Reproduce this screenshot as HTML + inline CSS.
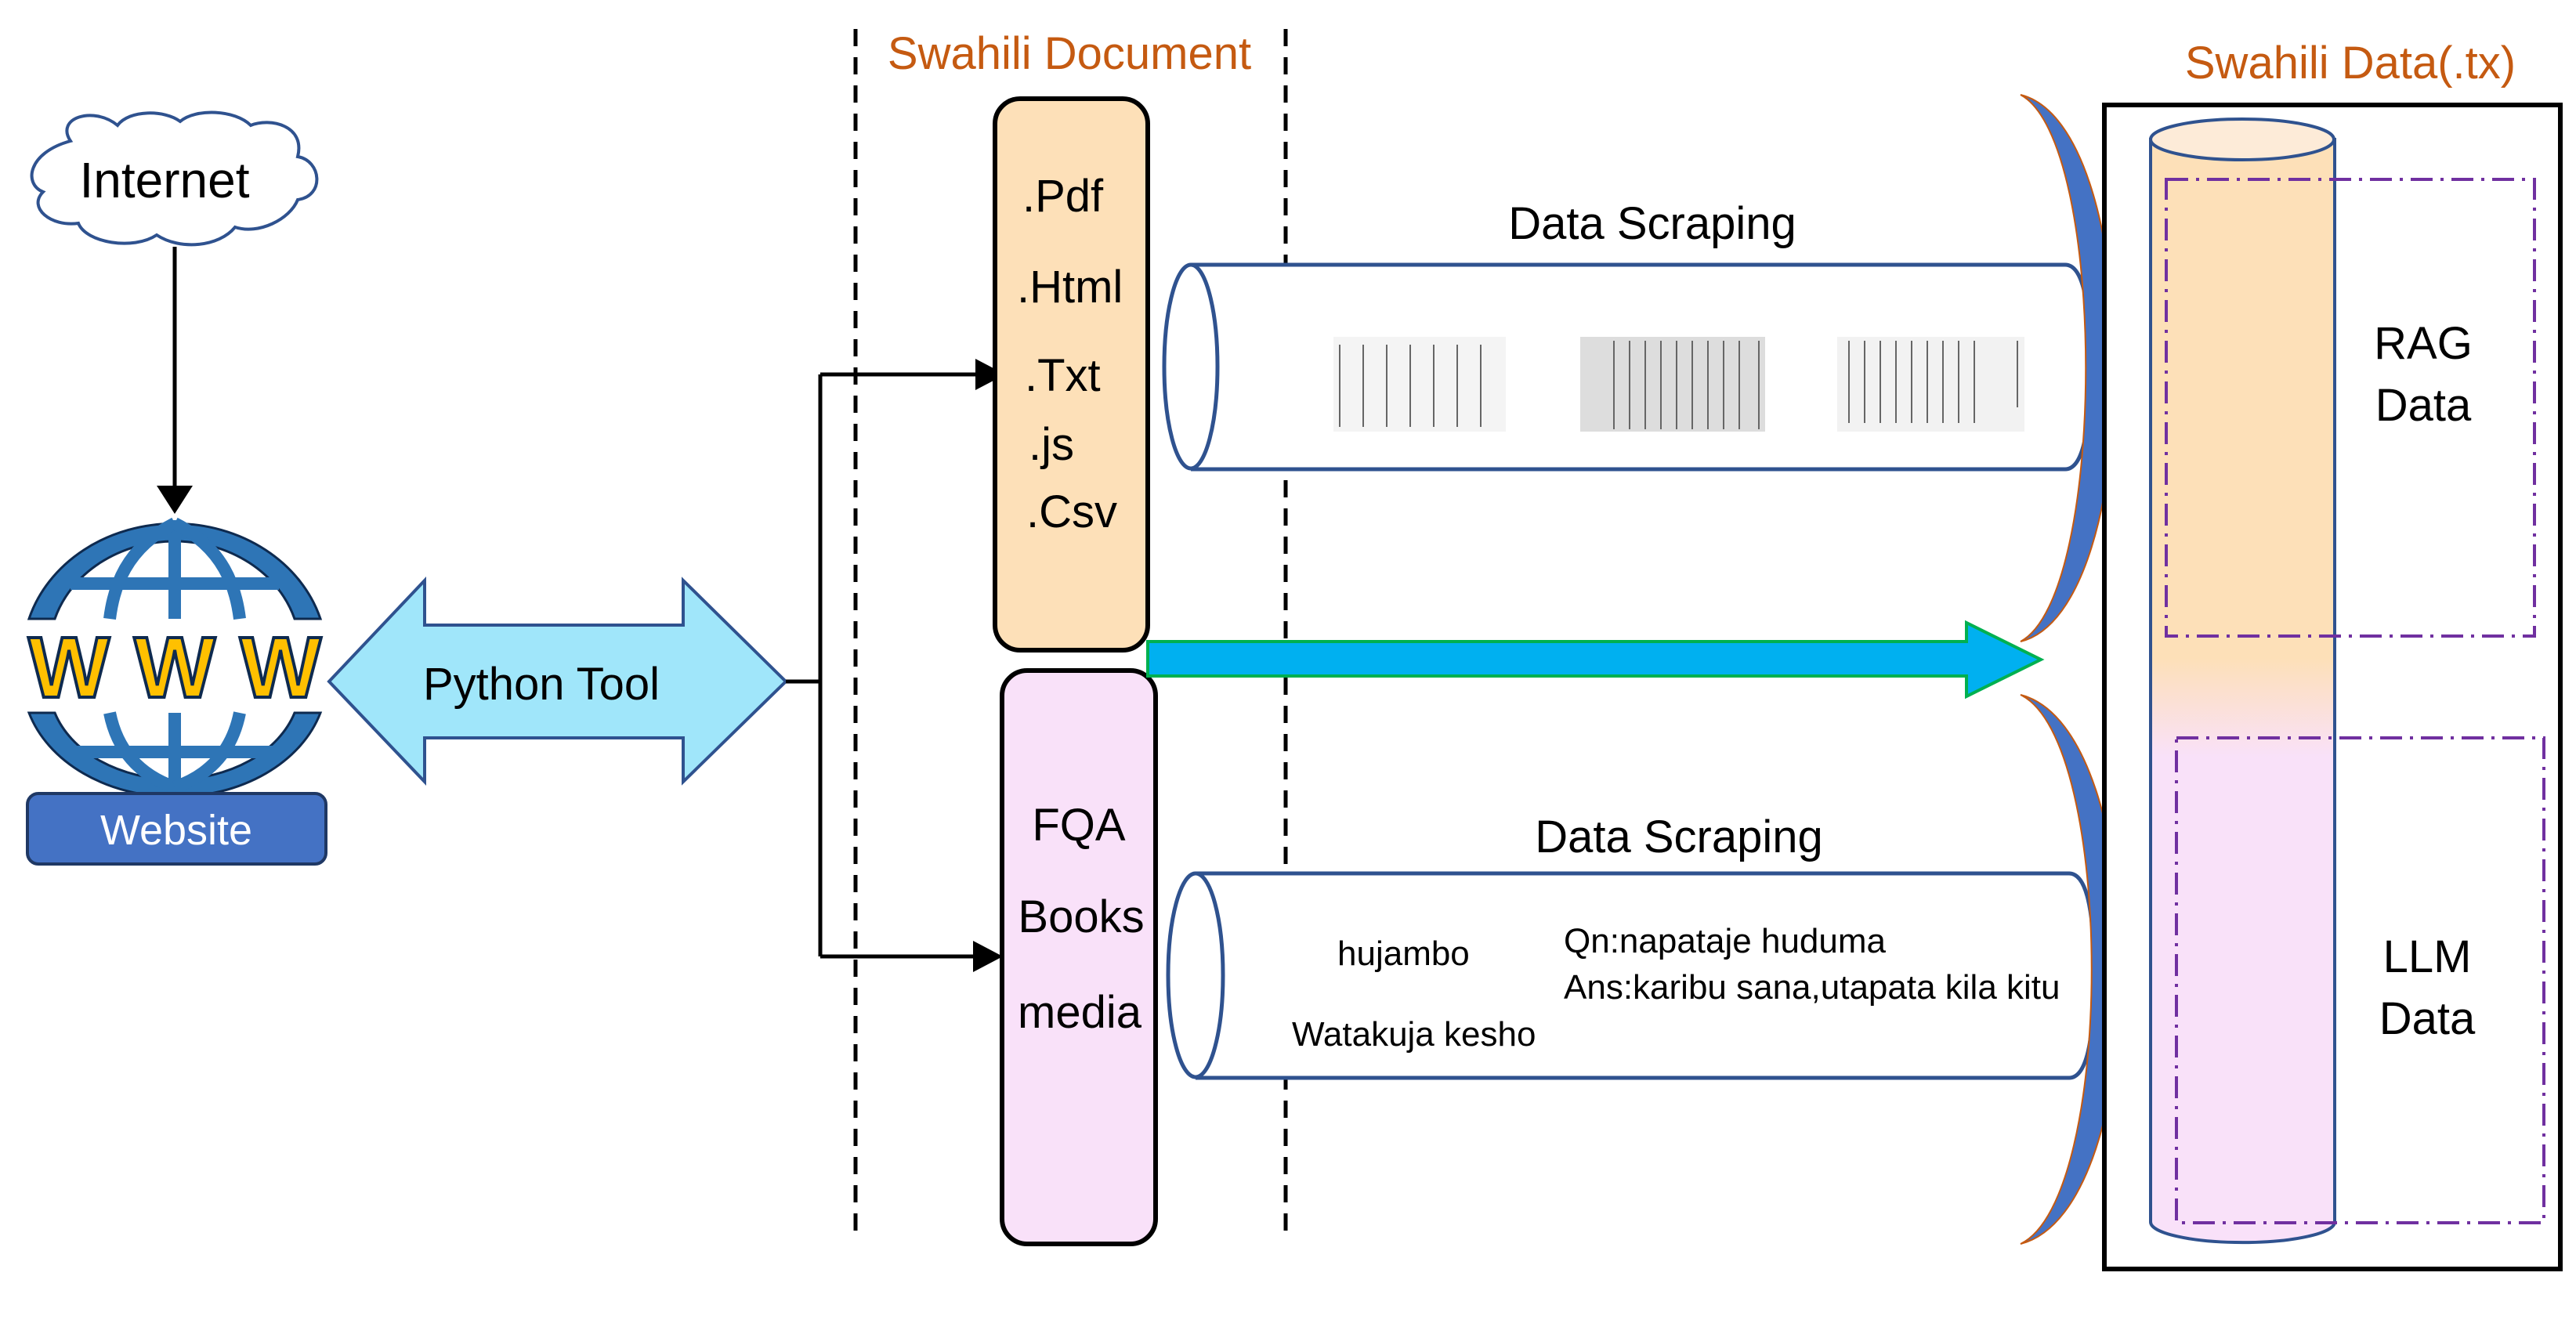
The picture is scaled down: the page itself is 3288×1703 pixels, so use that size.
<!DOCTYPE html>
<html><head><meta charset="utf-8"><style>
html,body{margin:0;padding:0;background:#fff;}
svg{display:block;font-family:"Liberation Sans",sans-serif;}
</style></head><body>
<svg width="3288" height="1703" viewBox="0 0 3288 1703" xmlns="http://www.w3.org/2000/svg">
<defs>
<marker id="ah" markerWidth="10" markerHeight="10" refX="9" refY="5" orient="auto" markerUnits="userSpaceOnUse" viewBox="0 0 10 10"><path d="M0,0 L10,5 L0,10 z" fill="#000"/></marker>
<linearGradient id="cg" x1="0" y1="0" x2="0" y2="1">
<stop offset="0" stop-color="#FDE0B8"/><stop offset="0.47" stop-color="#FDE0B8"/><stop offset="0.56" stop-color="#F9E1F9"/><stop offset="1" stop-color="#F9E1F9"/>
</linearGradient>
</defs>

<!-- dashed separators -->
<line x1="1092" y1="37" x2="1092" y2="1580" stroke="#000" stroke-width="5" stroke-dasharray="22,14"/>
<line x1="1641" y1="37" x2="1641" y2="1580" stroke="#000" stroke-width="5" stroke-dasharray="22,14"/>
<text x="1365" y="88" font-size="58" fill="#C55A11" text-anchor="middle">Swahili Document</text>

<!-- cloud -->
<path d="M90,180 C70,150 120,135 150,160 C165,140 210,140 230,155 C250,138 300,140 320,160 C345,150 390,160 380,200 C410,205 415,250 380,255 C370,280 330,300 300,290 C280,315 230,320 200,300 C170,320 110,310 100,285 C65,290 35,265 55,245 C30,235 35,195 90,180 Z" fill="#fff" stroke="#2F528F" stroke-width="4"/>
<text x="210" y="252" font-size="64" text-anchor="middle">Internet</text>
<line x1="223" y1="315" x2="223" y2="652" stroke="#000" stroke-width="5" marker-end="url(#ah)"/>
<path d="M200,620 L246,620 L223,656 Z" fill="#000"/>

<!-- globe -->
<g stroke="#0E2A4F" stroke-width="3">
<path d="M37,790 A194,170 0 0 1 409,790 L376,790 A160,140 0 0 0 70,790 Z" fill="#2E75B6"/>
<path d="M37,910 A194,150 0 0 0 409,910 L376,910 A160,120 0 0 1 70,910 Z" fill="#2E75B6"/>
</g>
<g fill="none" stroke="#2E75B6" stroke-width="16">
<path d="M223,664 L223,790"/><path d="M223,910 L223,1010"/>
<path d="M223,668 C160,700 145,750 140,790"/><path d="M223,668 C286,700 301,750 306,790"/>
<path d="M140,910 C150,960 180,990 223,1005"/><path d="M306,910 C296,960 266,990 223,1005"/>
<path d="M90,745 L356,745"/><path d="M90,960 L356,960"/>
</g>
<g font-size="110" font-weight="bold" fill="#FFC000" stroke="#0E2A4F" stroke-width="4" text-anchor="middle">
<text x="88" y="890">W</text><text x="223" y="890">W</text><text x="358" y="890">W</text>
</g>
<rect x="35" y="1013" width="381" height="90" rx="14" fill="#4472C4" stroke="#1F3864" stroke-width="4"/>
<text x="225" y="1078" font-size="54" fill="#fff" text-anchor="middle">Website</text>

<!-- double arrow -->
<path d="M420,870 L542,741 L542,798 L872,798 L872,741 L1003,870 L872,998 L872,942 L542,942 L542,998 Z" fill="#A0E6FA" stroke="#2F528F" stroke-width="4"/>
<text x="691" y="893" font-size="58" text-anchor="middle">Python Tool</text>

<!-- connectors -->
<polyline points="1003,870 1047,870" fill="none" stroke="#000" stroke-width="5"/>
<polyline points="1047,478 1047,1221" fill="none" stroke="#000" stroke-width="5"/>
<line x1="1047" y1="478" x2="1250" y2="478" stroke="#000" stroke-width="5"/>
<path d="M1245,458 L1283,478 L1245,498 Z"/>
<line x1="1047" y1="1221" x2="1245" y2="1221" stroke="#000" stroke-width="5"/>
<path d="M1242,1201 L1280,1221 L1242,1241 Z"/>

<!-- doc boxes -->
<rect x="1270" y="126" width="195" height="704" rx="32" fill="#FDE0B8" stroke="#000" stroke-width="6"/>
<g font-size="58">
<text x="1305" y="270">.Pdf</text>
<text x="1298" y="386">.Html</text>
<text x="1308" y="499">.Txt</text>
<text x="1313" y="587">.js</text>
<text x="1310" y="673">.Csv</text>
</g>
<rect x="1279" y="856" width="196" height="732" rx="32" fill="#F9E1F9" stroke="#000" stroke-width="6"/>
<g font-size="58" text-anchor="middle">
<text x="1377" y="1073">FQA</text>
<text x="1380" y="1190">Books</text>
<text x="1378" y="1312">media</text>
</g>

<!-- blue arrow -->
<path d="M1465,819 L2510,819 L2510,795 L2605,842 L2510,889 L2510,863 L1465,863 Z" fill="#00B0F0" stroke="#00B050" stroke-width="4"/>

<!-- cylinder 1 -->
<path d="M1520,338 L2636,338 Q2668,338 2668,468 Q2668,599 2636,599 L1520,599" fill="#fff" stroke="#2F528F" stroke-width="5"/>
<ellipse cx="1520" cy="468" rx="34" ry="130" fill="#fff" stroke="#2F528F" stroke-width="5"/>
<text x="2109" y="305" font-size="58" text-anchor="middle">Data Scraping</text>
<g stroke="#999" stroke-width="3">
<rect x="1702" y="430" width="220" height="121" fill="#f4f4f4" stroke="none"/>
<rect x="2017" y="430" width="236" height="121" fill="#ddd" stroke="none"/>
<rect x="2345" y="430" width="239" height="121" fill="#f2f2f2" stroke="none"/>
</g>
<g stroke="#666" stroke-width="2">
<line x1="1710" y1="440" x2="1710" y2="545"/><line x1="1740" y1="440" x2="1740" y2="545"/><line x1="1770" y1="440" x2="1770" y2="545"/><line x1="1800" y1="440" x2="1800" y2="545"/><line x1="1830" y1="440" x2="1830" y2="545"/><line x1="1860" y1="440" x2="1860" y2="545"/><line x1="1890" y1="440" x2="1890" y2="545"/>
<line x1="2060" y1="435" x2="2060" y2="548"/><line x1="2080" y1="435" x2="2080" y2="548"/><line x1="2100" y1="435" x2="2100" y2="548"/><line x1="2120" y1="435" x2="2120" y2="548"/><line x1="2140" y1="435" x2="2140" y2="548"/><line x1="2160" y1="435" x2="2160" y2="548"/><line x1="2180" y1="435" x2="2180" y2="548"/><line x1="2200" y1="435" x2="2200" y2="548"/><line x1="2220" y1="435" x2="2220" y2="548"/><line x1="2245" y1="435" x2="2245" y2="548"/>
<line x1="2360" y1="435" x2="2360" y2="540"/><line x1="2380" y1="435" x2="2380" y2="540"/><line x1="2400" y1="435" x2="2400" y2="540"/><line x1="2420" y1="435" x2="2420" y2="540"/><line x1="2440" y1="435" x2="2440" y2="540"/><line x1="2460" y1="435" x2="2460" y2="540"/><line x1="2480" y1="435" x2="2480" y2="540"/><line x1="2500" y1="435" x2="2500" y2="540"/><line x1="2520" y1="435" x2="2520" y2="540"/><line x1="2575" y1="435" x2="2575" y2="520"/>
</g>

<!-- cylinder 2 -->
<path d="M1526,1115 L2641,1115 Q2673,1115 2673,1245 Q2673,1376 2641,1376 L1526,1376" fill="#fff" stroke="#2F528F" stroke-width="5"/>
<ellipse cx="1526" cy="1245" rx="35" ry="130" fill="#fff" stroke="#2F528F" stroke-width="5"/>
<text x="2143" y="1088" font-size="58" text-anchor="middle">Data Scraping</text>
<g font-size="44">
<text x="1707" y="1232">hujambo</text>
<text x="1996" y="1216">Qn:napataje huduma</text>
<text x="1996" y="1275">Ans:karibu sana,utapata kila kitu</text>
<text x="1649" y="1335">Watakuja kesho</text>
</g>

<!-- braces -->
<path d="M2579,121 C2740,160 2740,780 2579,819 C2690,760 2690,180 2579,121 Z" fill="#4472C4" stroke="#C55A11" stroke-width="2"/>
<path d="M2579,887 C2750,930 2750,1545 2579,1588 C2700,1530 2700,945 2579,887 Z" fill="#4472C4" stroke="#C55A11" stroke-width="2"/>

<!-- data container -->
<text x="3000" y="100" font-size="58" fill="#C55A11" text-anchor="middle">Swahili Data(.tx)</text>
<rect x="2686" y="134" width="582" height="1486" fill="#fff" stroke="#000" stroke-width="6"/>
<path d="M2745,178 L2745,1560 A117,26 0 0 0 2980,1560 L2980,178 Z" fill="url(#cg)" stroke="#2F528F" stroke-width="4"/>
<ellipse cx="2862" cy="178" rx="117" ry="26" fill="#FDEBD8" stroke="#2F528F" stroke-width="4"/>
<rect x="2765" y="229" width="470" height="583" fill="none" stroke="#7030A0" stroke-width="4" stroke-dasharray="28,10,4,10"/>
<rect x="2778" y="942" width="469" height="619" fill="none" stroke="#7030A0" stroke-width="4" stroke-dasharray="28,10,4,10"/>
<g font-size="58" text-anchor="middle">
<text x="3093" y="458">RAG</text><text x="3093" y="537">Data</text>
<text x="3098" y="1241">LLM</text><text x="3098" y="1320">Data</text>
</g>
</svg>
</body></html>
